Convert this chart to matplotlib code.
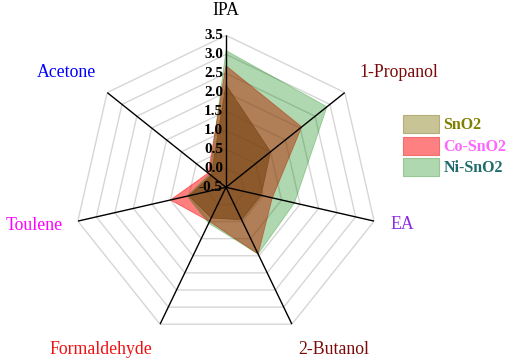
import numpy as np
import matplotlib.pyplot as plt
from matplotlib.patches import Patch

plt.rcParams['font.family'] = ['Liberation Serif', 'DejaVu Serif']

# sensor response per analyte
labels = ["IPA", "1-Propanol", "EA", "2-Butanol", "Formaldehyde", "Toulene", "Acetone"]
sno2 = [2.2, 1.0, 0.45, 0.45, 0.4, 0.5, 0.0]
co_sno2 = [2.7, 2.05, 0.75, 1.45, 0.5, 1.0, 0.1]
ni_sno2 = [3.1, 2.9, 1.35, 1.45, 0.55, 0.55, 0.05]
ticks = [-0.5, 0.0, 0.5, 1.0, 1.5, 2.0, 2.5, 3.0, 3.5]
series_names = ["SnO2", "Co-SnO2", "Ni-SnO2"]

label_colors = ["black", "#7a0a0a", "#8a2be2", "#7a0a0a", "#ee1111", "#ff00ff", "#0000ff"]
# offset of each category label from its spoke tip (pixels)
label_off = [(0, 25), (54, 20), (28, -3), (42, -25), (-59, -25), (-44, -4), (-41, 20)]

n = len(labels)
theta = np.arange(n) * 2 * np.pi / n
theta_c = np.append(theta, theta[0])

fig = plt.figure(figsize=(5.1, 3.62), dpi=100)
ax = fig.add_axes([0.1451, 0.0627, 0.596, 0.8398], projection='polar')
ax.set_theta_offset(np.pi / 2)
ax.set_theta_direction(-1)
ax.set_ylim(-0.5, 3.5)
ax.grid(False)
ax.set_xticks([])
ax.set_yticks([])
ax.spines['polar'].set_visible(False)

# heptagon grid
for r in ticks[1:]:
    ax.plot(theta_c, [r] * (n + 1), color="#d6d6d6", lw=1.0, zorder=1)
# spokes
for t in theta:
    ax.plot([t, t], [-0.5, 3.5], color="black", lw=1.0, zorder=5)

# fill colours chosen so the overlaps come out as dark as in the original
fills = [((82/255, 72/255, 47/255), 0.6, sno2),
         ((1.0, 0.0, 0.0), 0.5, co_sno2),
         ((0.0, 129/255, 0.0), 0.31, ni_sno2)]
for c, a, vals in fills:
    v = np.append(vals, vals[0])
    ax.fill(theta_c, v, color=c, alpha=a, lw=0.6, zorder=3)

# radial tick labels along IPA spoke
for r in ticks:
    ax.annotate(f"{r:.1f}", xy=(0, r), xytext=(-3, 0), textcoords='offset pixels',
                ha='right', va='center', fontsize=11, fontweight='bold', zorder=6)

for t, lab, col, off in zip(theta, labels, label_colors, label_off):
    ax.annotate(lab, xy=(t, 3.5), xytext=off, textcoords='offset pixels',
                ha='center', va='center', fontsize=12.8, color=col)

handles = [Patch(facecolor="#c8c496", edgecolor="#b4ae7c", lw=0.8),
           Patch(facecolor="#ff8080", edgecolor="#f06e6e", lw=0.8),
           Patch(facecolor="#b0d8b0", edgecolor="#96c896", lw=0.8)]
leg = fig.legend(handles, series_names, loc='upper left', bbox_to_anchor=(0.791, 0.682),
                 frameon=False, prop={'weight': 'bold', 'size': 11.5}, handlelength=2.2,
                 handleheight=1.35, handletextpad=0.3, labelspacing=0.2, borderpad=0,
                 borderaxespad=0)
for txt, col in zip(leg.get_texts(), ["#808000", "#ff66ff", "#1f6b6b"]):
    txt.set_color(col)

plt.savefig("out.png", dpi=100)
